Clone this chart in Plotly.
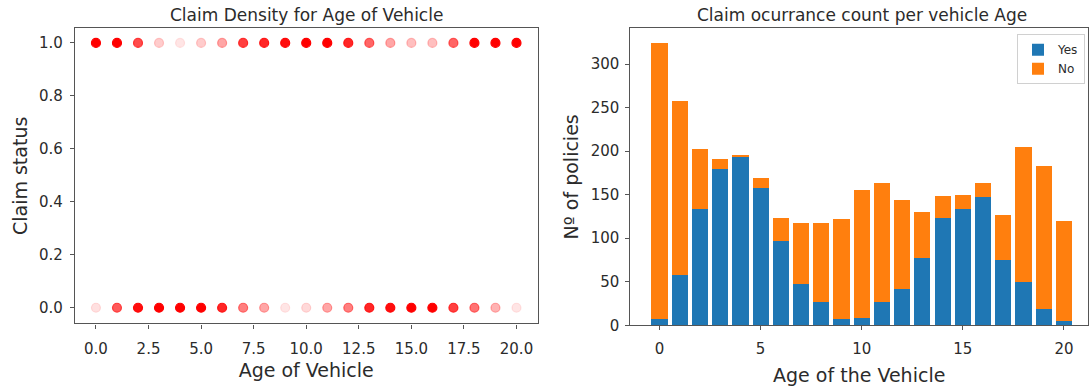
import plotly.graph_objects as go

# Vehicle age (years) shared by both panels
ages = list(range(21))

# Scatter panel: point density drawn as marker opacity per age and claim status
density_claim_1 = [1.0, 1.0, 0.7, 0.2, 0.1, 0.2, 0.35, 0.75, 0.85, 0.95, 1.0,
                   1.0, 0.85, 0.6, 0.35, 0.25, 0.25, 0.6, 1.0, 1.0, 1.0]
density_claim_0 = [0.12, 0.65, 0.95, 1.0, 1.0, 1.0, 0.85, 0.5, 0.35, 0.1, 0.15,
                   0.35, 0.5, 0.85, 0.95, 1.0, 1.0, 0.75, 0.55, 0.3, 0.1]

# Bar panel: policy counts per vehicle age
yes_counts = [7, 58, 134, 180, 193, 158, 97, 47, 27, 7, 8,
              27, 42, 77, 123, 134, 147, 75, 50, 19, 5]
total_counts = [324, 257, 203, 191, 196, 169, 123, 118, 118, 122, 155,
                163, 144, 130, 149, 150, 163, 127, 205, 183, 120]
no_counts = [t - y for t, y in zip(total_counts, yes_counts)]

FONT = "DejaVu Sans"
TXT = "#2b2b2b"
W, H = 1089, 390


def rgba(a):
    return f"rgba(255,0,0,{a})"


fig = go.Figure()

for yval, dens in ((1, density_claim_1), (0, density_claim_0)):
    cols = [rgba(a) for a in dens]
    fig.add_trace(go.Scatter(
        x=ages, y=[yval] * len(ages), mode="markers",
        marker=dict(size=9, color=cols, line=dict(width=1.2, color=cols)),
        xaxis="x", yaxis="y", showlegend=False,
    ))

fig.add_trace(go.Bar(x=ages, y=yes_counts, name="Yes", marker_color="#1f77b4",
                     marker_line_width=0, width=0.8, xaxis="x2", yaxis="y2"))
fig.add_trace(go.Bar(x=ages, y=no_counts, name="No", marker_color="#ff7f0e",
                     marker_line_width=0, width=0.8, xaxis="x2", yaxis="y2"))

axis_common = dict(showline=True, linecolor="#555", linewidth=1.3, mirror=True,
                   ticks="outside", ticklen=4, tickcolor="#555", showgrid=False,
                   zeroline=False, tickfont=dict(family=FONT, size=15, color=TXT))
label_font = dict(family=FONT, size=19, color=TXT)
title_font = dict(family=FONT, size=17, color=TXT)

fig.update_layout(
    width=W, height=H, margin=dict(l=0, r=0, t=0, b=0),
    paper_bgcolor="white", plot_bgcolor="white", barmode="stack", bargap=0.2,
    font=dict(family=FONT, color=TXT),
    xaxis=dict(domain=[75 / W, 538 / W], range=[-1, 21],
               tickvals=[0, 2.5, 5, 7.5, 10, 12.5, 15, 17.5, 20],
               ticktext=["0.0", "2.5", "5.0", "7.5", "10.0", "12.5", "15.0", "17.5", "20.0"],
               ticklabelstandoff=7,
               title=dict(text="Age of Vehicle", font=label_font, standoff=7),
               anchor="y", **axis_common),
    yaxis=dict(domain=[1 - 331 / H, 1 - 29 / H], range=[-0.059, 1.055],
               tickvals=[0, 0.2, 0.4, 0.6, 0.8, 1.0],
               ticktext=["0.0", "0.2", "0.4", "0.6", "0.8", "1.0"],
               ticklabelstandoff=4,
               title=dict(text="Claim status", font=label_font, standoff=6),
               anchor="x", **axis_common),
    xaxis2=dict(domain=[631 / W, 1.0], range=[-1.44, 21.19],
                tickvals=[0, 5, 10, 15, 20],
                ticklabelstandoff=6,
                title=dict(text="Age of the Vehicle", font=label_font, standoff=11),
                anchor="y2", **axis_common),
    yaxis2=dict(domain=[1 - 333 / H, 1 - 29 / H], range=[0, 341],
                tickvals=[0, 50, 100, 150, 200, 250, 300],
                ticklabelstandoff=3,
                title=dict(text="Nº of policies", font=label_font, standoff=6),
                anchor="x2", **axis_common),
    legend=dict(x=1086 / W, y=1 - 35 / H, xanchor="right", yanchor="top",
                bgcolor="rgba(255,255,255,0.9)", bordercolor="#d0d0d0", borderwidth=1,
                font=dict(family=FONT, size=12, color=TXT), traceorder="normal",
                itemwidth=30),
    annotations=[
        dict(text="Claim Density for Age of Vehicle", x=(75 + 538) / 2 / W, y=1 - 15 / H,
             xref="paper", yref="paper", xanchor="center", yanchor="middle", showarrow=False,
             font=title_font),
        dict(text="Claim ocurrance count per vehicle Age", x=(631 + 1094) / 2 / W, y=1 - 15 / H,
             xref="paper", yref="paper", xanchor="center", yanchor="middle", showarrow=False,
             font=title_font),
    ],
)

fig.write_html("out.html")
